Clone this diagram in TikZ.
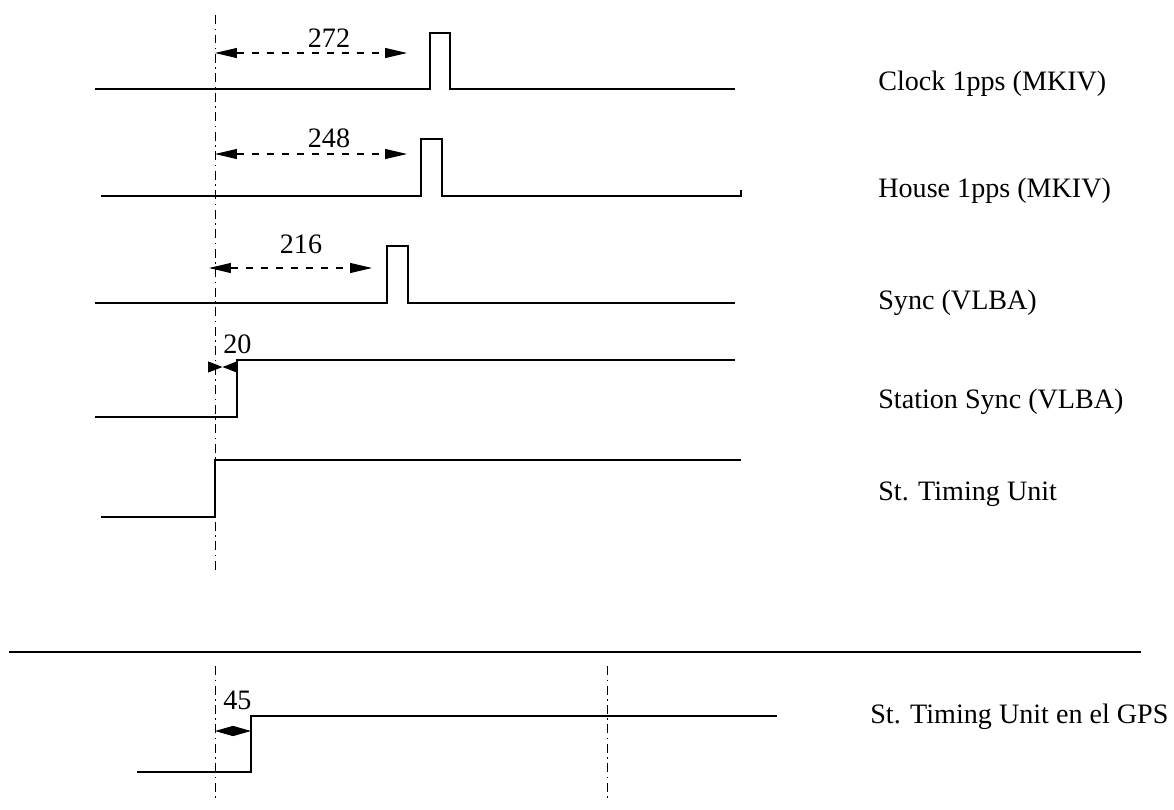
\documentclass[tikz,border=0pt]{standalone}
\usepackage{fontspec}
\setmainfont{Liberation Serif}
\usetikzlibrary{arrows.meta}

\tikzset{
	signal/.style={line width=0.6pt},
	refline/.style={line width=0.5pt, dash pattern=on 0.18cm off 0.09cm on 0.03cm off 0.09cm},
	dimline/.style={line width=0.6pt, dash pattern=on 0.14cm off 0.16cm,
		{Triangle[length=0.44cm,width=0.2cm]}-{Triangle[length=0.44cm,width=0.2cm]}},
	shortdim/.style={line width=0.5pt, -{Triangle[length=0.29cm,width=0.22cm]}},
	lbl/.style={inner sep=0pt, font=\fontsize{16}{19}\selectfont},
}

\begin{document}
\begin{tikzpicture}[x=0.02cm, y=-0.02cm]
	\useasboundingbox (0,0) rectangle (1174,809);
	
	% reference time
	\draw[refline] (215,15) -- (215,570);
	
	% Clock 1pps (MKIV)
	\draw[signal] (95,89) -- (430,89) -- (430,33) -- (450,33) -- (450,89) -- (735,89);
	\draw[dimline] (215,53) -- (407,53);
	\node[lbl, anchor=base] (n272) at (329,47) {272};
	\node[lbl, anchor=base west] (clk) at (878,90) {Clock 1pps (MKIV)};
	
	% House 1pps (MKIV)
	\draw[signal] (101,196) -- (421,196) -- (421,139) -- (442,139) -- (442,196) -- (741,196) -- (741,190);
	\draw[dimline] (215,154) -- (407,154);
	\node[lbl, anchor=base] (n248) at (329,147) {248};
	\node[lbl, anchor=base west] (house) at (878,197) {House 1pps (MKIV)};
	
	% Sync (VLBA)
	\draw[signal] (95,303) -- (387,303) -- (387,246) -- (408,246) -- (408,303) -- (735,303);
	\draw[dimline] (209,268) -- (372,268);
	\node[lbl, anchor=base] (n216) at (301,253) {216};
	\node[lbl, anchor=base west] (sync) at (878,309) {Sync (VLBA)};
	
	% Station Sync (VLBA)
	\draw[signal] (95,417) -- (237,417) -- (237,360) -- (735,360);
	\coordinate (s20a) at (208,367);
	\coordinate (s20b) at (237,367);
	\coordinate (s20m) at (222.5,367);
	\draw[shortdim] (s20a) -- (s20m);
	\draw[shortdim] (s20b) -- (s20m);
	\node[lbl, anchor=base west] (n20) at (223,353) {20};
	\node[lbl, anchor=base west] (ssync) at (878,408) {Station Sync (VLBA)};
	
	% St. Timing Unit
	\draw[signal] (101,517) -- (215,517) -- (215,460) -- (741,460);
	\node[lbl, anchor=base west] (stu) at (878,500) {St. Timing Unit};
	
	% separator
	\draw[line width=1.2pt] (9,652) -- (1141,652);
	
	% St. Timing Unit en el GPS
	\draw[refline] (215,666) -- (215,802);
	\draw[refline] (607,666) -- (607,802);
	\draw[signal] (137,772) -- (251,772) -- (251,716) -- (777,716);
	\coordinate (g45a) at (215,731);
	\coordinate (g45b) at (251,731);
	\draw[line width=0.5pt, {Triangle[length=0.36cm,width=0.2cm]}-{Triangle[length=0.36cm,width=0.2cm]}] (g45a) -- (g45b);
	\node[lbl, anchor=base west] (n45) at (223,709) {45};
	\node[lbl, anchor=base west] (gps) at (870,723) {St. Timing Unit en el GPS};
\end{tikzpicture}
\end{document}
